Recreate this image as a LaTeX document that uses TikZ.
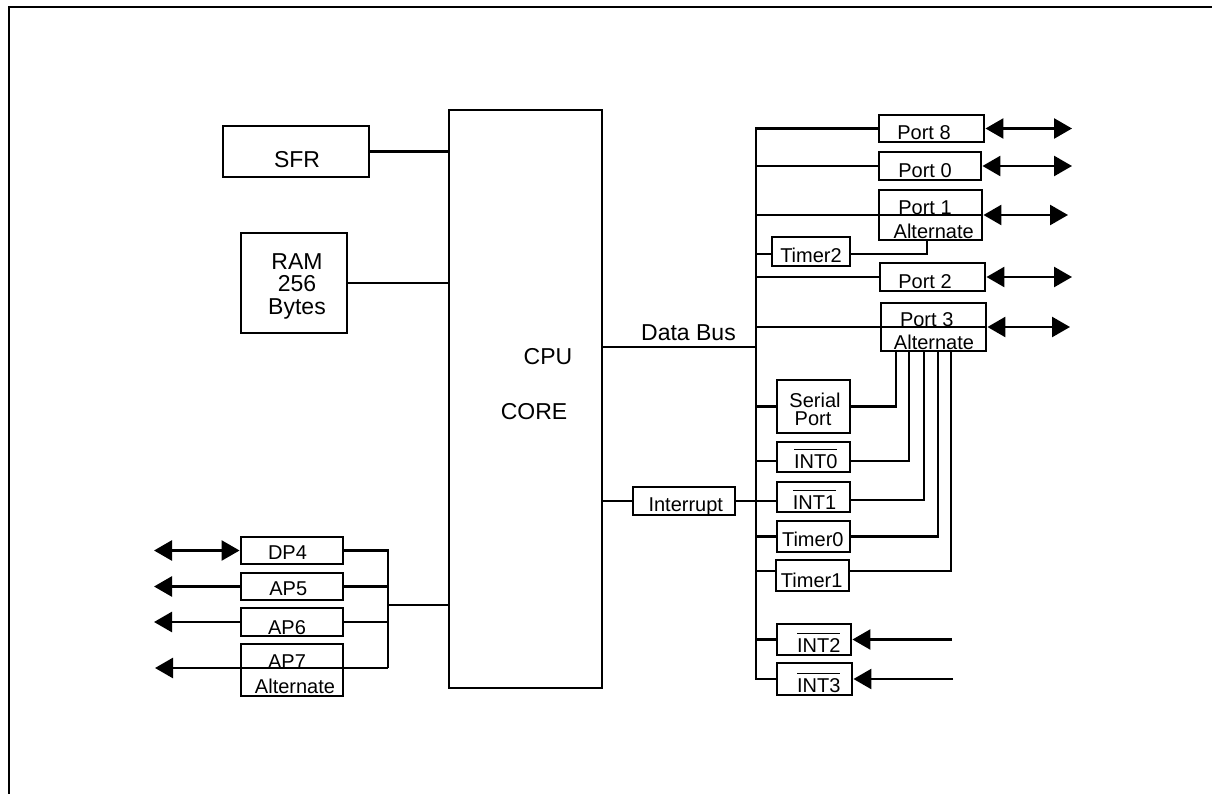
\documentclass[tikz,border=0pt]{standalone}
\usepackage{fontspec}
\setmainfont{Liberation Sans}
\usetikzlibrary{arrows.meta}
\newcommand\ovl[1]{\leavevmode\vbox{\hrule height 1.1pt\kern 4pt\hbox{#1}}}
\begin{document}
\begin{tikzpicture}[x=1pt,y=-1pt,line width=2.6pt,
  >={Triangle[length=18pt,width=20pt]},
  box/.style 2 args={draw,line width=2.9pt,inner sep=0pt,minimum width=#1pt,minimum height=#2pt},
  st/.style={font=\fontsize{20}{24}\selectfont,inner sep=0pt,text height=14.3pt,text depth=0pt},
  lt/.style={font=\fontsize{23}{26}\selectfont,inner sep=0pt,text height=16.5pt,text depth=0pt}]
\useasboundingbox (0,0) rectangle (1212,794);
% frame
\draw[line width=2.5pt] (1212,7) -- (9,7) -- (9,794);

% boxes
\node[box={153}{578}] (cpu) at (525.5,399) {};
\node[box={146}{51}] (sfr) at (296,151.5) {};
\node[box={106}{100}] (ram) at (294,283) {};
\node[box={105}{27}] (p8) at (931.5,128.5) {};
\node[box={102}{28}] (p0) at (930,166) {};
\node[box={103}{50}] (p1) at (930.5,215) {};
\node[box={78}{29}] (t2) at (811,251.5) {};
\node[box={105}{28}] (p2) at (932.5,277) {};
\node[box={105}{48}] (p3) at (933.5,327) {};
\node[box={73}{53}] (sp) at (813.5,406.5) {};
\node[box={73}{30}] (i0) at (813.5,457) {};
\node[box={73}{30}] (i1) at (813.5,497) {};
\node[box={73}{31}] (tm0) at (813.5,536.5) {};
\node[box={73}{31}] (tm1) at (812.5,575.5) {};
\node[box={74}{31}] (i2) at (814,639.5) {};
\node[box={75}{32}] (i3) at (814.5,679) {};
\node[box={102}{28}] (intr) at (684,501) {};
\node[box={102}{27}] (dp4) at (292,550.5) {};
\node[box={102}{27}] (ap5) at (292,586.5) {};
\node[box={102}{28}] (ap6) at (292,622) {};
\node[box={102}{52}] (ap7) at (292,670) {};

% texts
\node[lt] (cput) at (548,356) {CPU};
\node[lt] (coret) at (534,411) {CORE};
\node[lt] (sfrt) at (297,159) {SFR};
\node[lt] (ram1) at (297,261.3) {RAM};
\node[lt] (ram2) at (297,283.7) {256};
\node[lt] (ram3) at (297,305.8) {Bytes};
\node[lt] (dbt) at (688.5,332) {Data Bus};
\node[st] (p8t) at (924,132) {Port 8};
\node[st] (p0t) at (925,170) {Port 0};
\node[st] (p1t) at (925,207) {Port 1};
\node[st] (p1a) at (933.7,231) {Alternate};
\node[st] (t2t) at (811,255) {Timer2};
\node[st] (p2t) at (925,281) {Port 2};
\node[st] (p3t) at (926.7,319) {Port 3};
\node[st] (p3a) at (934,342) {Alternate};
\node[st] (spt1) at (815,400) {Serial};
\node[st] (spt2) at (813,418) {Port};
\node[st] (i0t) at (815.7,461) {\ovl{INT0}};
\node[st] (i1t) at (814.5,502) {\ovl{INT1}};
\node[st] (tm0t) at (812.8,539.7) {Timer0};
\node[st] (tm1t) at (811.7,580.7) {Timer1};
\node[st] (i2t) at (818.7,645) {\ovl{INT2}};
\node[st] (i3t) at (818.7,685) {\ovl{INT3}};
\node[st] (intrt) at (685.8,504) {Interrupt};
\node[st] (dp4t) at (287.5,552.5) {DP4};
\node[st] (ap5t) at (288.3,588.8) {AP5};
\node[st] (ap6t) at (287,627) {AP6};
\node[st] (ap7t) at (287,661.7) {AP7};
\node[st] (ap7a) at (295,686) {Alternate};

% coordinates
\coordinate (bus) at (756,0);
\coordinate (jun) at (388,605);
\coordinate (dbl) at (0,347);
\coordinate (p8r) at (1072,128.5);
\coordinate (p0r) at (1072,166);
\coordinate (p1r) at (1068,215);
\coordinate (p2r) at (1072,277);
\coordinate (p3r) at (1070,327);
\coordinate (i2l) at (952,639.5);
\coordinate (i3l) at (953,679);
\coordinate (dp4l) at (154,550.5);
\coordinate (ap5l) at (154,586.5);
\coordinate (ap6l) at (154,622);
\coordinate (ap7l) at (155,668);

% memory connections
\draw (sfr.east) -- (sfr.east -| cpu.west);
\draw (ram.east) -- (ram.east -| cpu.west);

% data bus
\draw (cpu.east |- dbl) -- (bus |- dbl);
\draw (p8.west) -- (bus |- p8) -- (bus |- i3) -- (i3.west);
\draw (bus |- p0) -- (p0.west);
\draw (bus |- p1) -- (p1.east);
\draw ([yshift=-2.5pt]t2.west -| bus) -- ([yshift=-2.5pt]t2.west);
\draw ([yshift=-2.5pt]t2.east) -| ([xshift=-3.5pt]p1.south);
\draw (bus |- p2) -- (p2.west);
\draw (bus |- p3) -- (p3.east);
\draw (bus |- sp) -- (sp.west);
\draw ([yshift=-4pt]i0.west -| bus) -- ([yshift=-4pt]i0.west);
\draw (bus |- tm0) -- (tm0.west);
\draw ([yshift=4.5pt]tm1.west -| bus) -- ([yshift=4.5pt]tm1.west);
\draw (bus |- i2) -- (i2.west);

% interrupt
\draw (cpu.east |- intr) -- (intr.west);
\draw (intr.east) -- (intr.east -| i1.west);

% port 3 alternate functions
\draw (sp.east) -| ([xshift=-37.5pt]p3.south);
\draw ([yshift=-4pt]i0.east) -| ([xshift=-24.5pt]p3.south);
\draw ([yshift=-3pt]i1.east) -| ([xshift=-9.5pt]p3.south);
\draw (tm0.east) -| ([xshift=4.5pt]p3.south);
\draw ([yshift=4.5pt]tm1.east) -| ([xshift=17.5pt]p3.south);

% port arrows
\draw[<->] (p8.east) -- (p8r);
\draw[<->] (p0.east) -- (p0r);
\draw[<->] (p1.east) -- (p1r);
\draw[<->] (p2.east) -- (p2r);
\draw[<->] (p3.east) -- (p3r);
\draw[->] (i2l) -- (i2.east);
\draw[->] (i3l) -- (i3.east);

% left ports
\draw[<->] (dp4l) -- (dp4.west);
\draw[<-] (ap5l) -- (ap5.west);
\draw[<-] (ap6l) -- (ap6.west);
\draw[<-] (ap7l) -- (ap7l -| jun);
\draw (dp4.east) -- (dp4.east -| jun) -- (jun |- ap7l);
\draw (ap5.east) -- (ap5.east -| jun);
\draw (ap6.east) -- (ap6.east -| jun);
\draw (jun) -- (jun -| cpu.west);
\end{tikzpicture}
\end{document}
